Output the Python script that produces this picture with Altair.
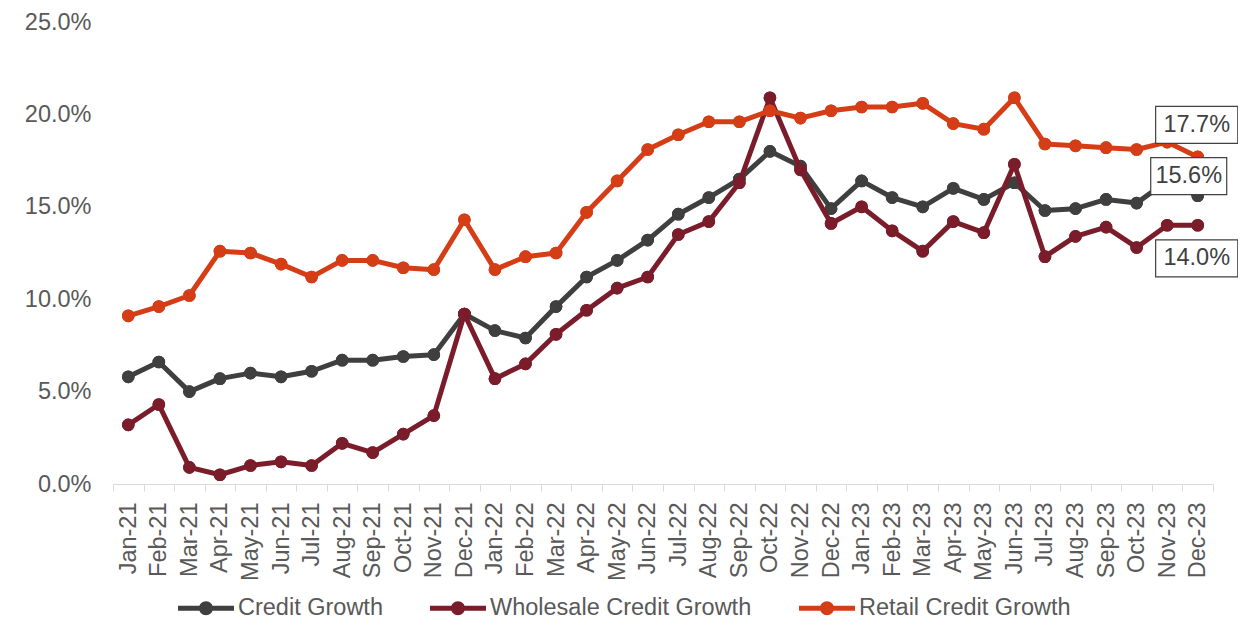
import altair as alt
import pandas as pd

months = [
    "Jan-21", "Feb-21", "Mar-21", "Apr-21", "May-21", "Jun-21", "Jul-21", "Aug-21", "Sep-21", "Oct-21", "Nov-21", "Dec-21",
    "Jan-22", "Feb-22", "Mar-22", "Apr-22", "May-22", "Jun-22", "Jul-22", "Aug-22", "Sep-22", "Oct-22", "Nov-22", "Dec-22",
    "Jan-23", "Feb-23", "Mar-23", "Apr-23", "May-23", "Jun-23", "Jul-23", "Aug-23", "Sep-23", "Oct-23", "Nov-23", "Dec-23",
]
series_names = ["Credit Growth", "Wholesale Credit Growth", "Retail Credit Growth"]

credit = [5.8, 6.6, 5.0, 5.7, 6.0, 5.8, 6.1, 6.7, 6.7, 6.9, 7.0, 9.2,
          8.3, 7.9, 9.6, 11.2, 12.1, 13.2, 14.6, 15.5, 16.5, 18.0, 17.2, 14.9,
          16.4, 15.5, 15.0, 16.0, 15.4, 16.3, 14.8, 14.9, 15.4, 15.2, 16.4, 15.6]
wholesale = [3.2, 4.3, 0.9, 0.5, 1.0, 1.2, 1.0, 2.2, 1.7, 2.7, 3.7, 9.2,
             5.7, 6.5, 8.1, 9.4, 10.6, 11.2, 13.5, 14.2, 16.3, 20.9, 17.0, 14.1,
             15.0, 13.7, 12.6, 14.2, 13.6, 17.3, 12.3, 13.4, 13.9, 12.8, 14.0, 14.0]
retail = [9.1, 9.6, 10.2, 12.6, 12.5, 11.9, 11.2, 12.1, 12.1, 11.7, 11.6, 14.3,
          11.6, 12.3, 12.5, 14.7, 16.4, 18.1, 18.9, 19.6, 19.6, 20.2, 19.8, 20.2,
          20.4, 20.4, 20.6, 19.5, 19.2, 20.9, 18.4, 18.3, 18.2, 18.1, 18.5, 17.7]

colors = ["#3F3F3F", "#7B1C2A", "#D53D16"]
y_ticks = [0, 5, 10, 15, 20, 25]

rows = []
for name, vals in zip(series_names, [credit, wholesale, retail]):
    for m, v in zip(months, vals):
        rows.append({"month": m, "series": name, "value": v})
df = pd.DataFrame(rows)

last = pd.DataFrame({
    "month": [months[-1]] * 3,
    "series": series_names,
    "value": [credit[-1], wholesale[-1], retail[-1]],
})

FONT = "Liberation Sans"
FS = 23.5
TXT = "#595959"

x_enc = alt.X(
    "month:N", sort=months,
    scale=alt.Scale(type="band", paddingInner=0, paddingOuter=0),
    axis=alt.Axis(title=None, labelAngle=270, tickBand="extent", domainColor="#D9D9D9",
                  tickColor="#D9D9D9", tickSize=7, labelPadding=11, labelFontSize=FS,
                  labelColor=TXT, labelFont=FONT, grid=False, labelOverlap=False),
)
y_enc = alt.Y(
    "value:Q",
    scale=alt.Scale(domain=[0, 25], nice=False),
    axis=alt.Axis(title=None, values=y_ticks, labelExpr="format(datum.value, '.1f') + '%'",
                  domain=False, ticks=False, grid=False, labelPadding=22, labelFontSize=FS,
                  labelColor=TXT, labelFont=FONT),
)

legend_path = ("M -2.333 -0.208 L 2.333 -0.208 L 2.333 0.208 L -2.333 0.208 Z "
               "M 0.583 0 A 0.583 0.583 0 1 1 -0.583 0 A 0.583 0.583 0 1 1 0.583 0 Z")

color_enc = alt.Color(
    "series:N", sort=series_names,
    scale=alt.Scale(domain=series_names, range=colors),
    legend=alt.Legend(
        title=None, orient="none", direction="horizontal", legendX=81, legendY=574,
        symbolType=legend_path, symbolSize=576, symbolStrokeWidth=0, symbolOpacity=1,
        labelOffset=20, columnPadding=47, labelFontSize=FS, labelFont=FONT, labelColor=TXT,
        labelLimit=500,
    ),
)

layers = []
for name in series_names:
    b = alt.Chart(df).transform_filter(alt.datum.series == name).encode(x=x_enc, y=y_enc, color=color_enc)
    layers.append(b.mark_point(filled=True, size=160, opacity=1))
    layers.append(b.mark_line(strokeWidth=5, strokeJoin="round"))
    layers.append(b.mark_point(filled=True, size=160, opacity=1))

label_style = {
    "Retail Credit Growth": (-1, -32, 1.11),
    "Credit Growth": (-9, -19.5, 1.027),
    "Wholesale Credit Growth": (-1, 33, 1.11),
}
for name, (ox, oy, hw) in label_style.items():
    box_path = f"M -{hw} -0.5 L {hw} -0.5 L {hw} 0.5 L -{hw} 0.5 Z"
    lb = (alt.Chart(last)
          .transform_filter(alt.datum.series == name)
          .transform_calculate(label="format(datum.value, '.1f') + '%'")
          .encode(x=x_enc, y=y_enc))
    layers.append(lb.mark_point(shape=box_path, size=5476, filled=True, fill="white",
                                stroke="#404040", strokeWidth=1.2, opacity=1,
                                xOffset=ox, yOffset=oy))
    layers.append(lb.mark_text(font=FONT, fontSize=FS, color="#404040", dx=ox, dy=oy,
                               align="center", baseline="middle").encode(text="label:N"))

chart = (alt.layer(*layers)
         .properties(width=1100, height=462,
                     autosize=alt.AutoSizeParams(type="none"),
                     padding={"left": 105, "top": 14, "right": 25, "bottom": 138})
         .configure(background="white")
         .configure_view(stroke="transparent", strokeWidth=0))

chart.save("out.html", embed_options={"renderer": "svg", "actions": False})
